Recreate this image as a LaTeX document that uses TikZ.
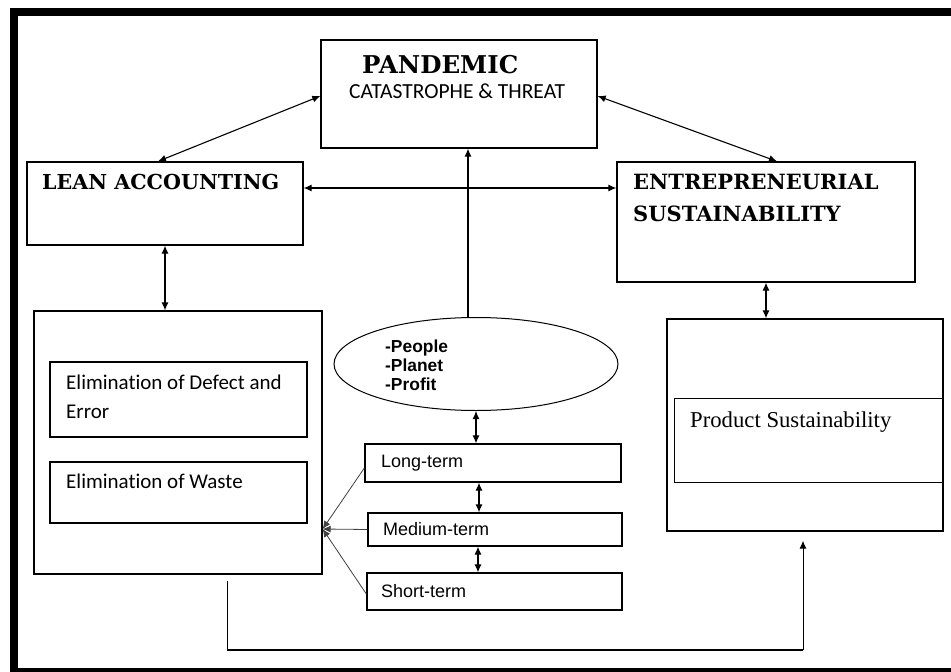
\documentclass[tikz,border=0pt]{standalone}
\usepackage{fontspec}
\usetikzlibrary{arrows.meta,shapes.geometric,calc}
\newfontfamily\hdfont{DejaVu Serif}
\newfontfamily\calfont[Ligatures=NoCommon]{Carlito}
\newfontfamily\arfont{Liberation Sans}
\newfontfamily\tmfont{Liberation Serif}
\tikzset{
  box/.style={draw, line width=1.3pt, rectangle, inner sep=0pt},
  txt/.style={anchor=base west, inner sep=0pt},
  dbl/.style={line width=1.1pt, {Latex[length=8pt,width=7pt]}-{Latex[length=8pt,width=7pt]}},
  sgl/.style={line width=1.1pt, -{Latex[length=8pt,width=7pt]}},
  thin/.style={line width=0.8pt, draw=black!75, -{Latex[length=8pt,width=7pt]}},
}
\begin{document}
\begin{tikzpicture}[x=1pt,y=-1pt]
\useasboundingbox (0,0) rectangle (951,672);
% frame
\draw[line width=8pt] (14,12) -- (960,12);
\draw[line width=8pt] (14,8) -- (14,676);
\draw[line width=8pt] (10,672) -- (960,672);

% boxes
\node[box, minimum width=276pt, minimum height=108pt] (pan) at (459,94) {};
\node[box, minimum width=276pt, minimum height=83pt] (lean) at (165,203.5) {};
\node[box, minimum width=298pt, minimum height=120pt] (entre) at (766,222) {};
\node[box, minimum width=288pt, minimum height=263pt] (leftbig) at (178,442.5) {};
\node[box, minimum width=257pt, minimum height=75pt] (elim1) at (178.5,399.5) {};
\node[box, minimum width=257pt, minimum height=61pt] (elim2) at (178.5,492.5) {};
\node[box, minimum width=276pt, minimum height=212pt] (rightbig) at (805,425) {};
\node[box, line width=1pt, minimum width=269pt, minimum height=84pt] (prod) at (808.5,440) {};
\node[draw, line width=1pt, ellipse, minimum width=284pt, minimum height=93pt, inner sep=0pt] (ell) at (476,364) {};
\node[box, minimum width=256pt, minimum height=38pt] (long) at (493,463) {};
\node[box, minimum width=254pt, minimum height=33pt] (med) at (495,529.5) {};
\node[box, minimum width=255pt, minimum height=37pt] (short) at (494.5,591.5) {};

% texts
\node[txt] (tpan) at (362,73) {\hdfont\bfseries\fontsize{24.5}{28}\selectfont PANDEMIC};
\node[txt] (tcat) at (349,98) {\calfont\fontsize{21.5}{24}\selectfont CATASTROPHE \& THREAT};
\node[txt] (tlean) at (42,189) {\hdfont\bfseries\fontsize{20.6}{23}\selectfont LEAN ACCOUNTING};
\node[txt] (tent1) at (633,189) {\hdfont\bfseries\fontsize{21}{23}\selectfont ENTREPRENEURIAL};
\node[txt] (tent2) at (633,221) {\hdfont\bfseries\fontsize{21}{23}\selectfont SUSTAINABILITY};
\node[txt] (te1a) at (66,389) {\calfont\fontsize{21}{24}\selectfont Elimination of Defect and};
\node[txt] (te1b) at (66,418) {\calfont\fontsize{21}{24}\selectfont Error};
\node[txt] (te2) at (66,488) {\calfont\fontsize{21}{24}\selectfont Elimination of Waste};
\node[txt] (tp1) at (385,352) {\arfont\bfseries\fontsize{17.4}{19}\selectfont -People};
\node[txt] (tp2) at (385,371) {\arfont\bfseries\fontsize{17.4}{19}\selectfont -Planet};
\node[txt] (tp3) at (385,390) {\arfont\bfseries\fontsize{17.4}{19}\selectfont -Profit};
\node[txt] (tlong) at (381,467) {\arfont\fontsize{18}{20}\selectfont Long-term};
\node[txt] (tmed) at (383,535) {\arfont\fontsize{18}{20}\selectfont Medium-term};
\node[txt] (tshort) at (381,597) {\arfont\fontsize{18}{20}\selectfont Short-term};
\node[txt] (tprod) at (690,427) {\tmfont\fontsize{22.7}{26}\selectfont Product Sustainability};

% connectors
\draw[dbl] ([yshift=-2pt]pan.west) -- ([xshift=-7pt]lean.north);
\draw[dbl] ([yshift=-2pt]pan.east) -- ([xshift=11pt]entre.north);
\draw[dbl] ([yshift=15.5pt]lean.east) -- ([yshift=34pt]entre.west);
\draw[dbl] (lean.south) -- (lean.south |- leftbig.north);
\draw[dbl] (entre.south) -- (entre.south |- rightbig.north);
\coordinate (ellt) at ([xshift=-8pt]ell.north);
\draw[sgl] (ellt) -- (ellt |- pan.south);
\draw[dbl] (ell.south) -- (ell.south |- long.north);
\coordinate (lm) at ([xshift=-14pt]long.south);
\draw[dbl] (lm) -- (lm |- med.north);
\coordinate (ms) at ([xshift=-17pt]med.south);
\draw[dbl] (ms) -- (ms |- short.north);
\coordinate (hub) at ([yshift=-86.5pt]leftbig.east);
\draw[thin] ([yshift=-5pt]long.west) -- (hub);
\draw[thin] (med.west) -- (hub);
\draw[thin] ([yshift=-2.5pt]short.west) -- (hub);
\coordinate (bstart) at ([xshift=49pt,yshift=-6pt]leftbig.south);
\coordinate (bend) at ([xshift=-2pt,yshift=-9pt]rightbig.south);
\draw[line width=1pt] (bstart) -- ++(0,69) coordinate (bcorner);
\draw[line width=2pt] (bcorner) -- (bcorner -| bend) coordinate (bcorner2);
\draw[sgl, line width=1pt] (bcorner2) -- (bend);
\end{tikzpicture}
\end{document}
